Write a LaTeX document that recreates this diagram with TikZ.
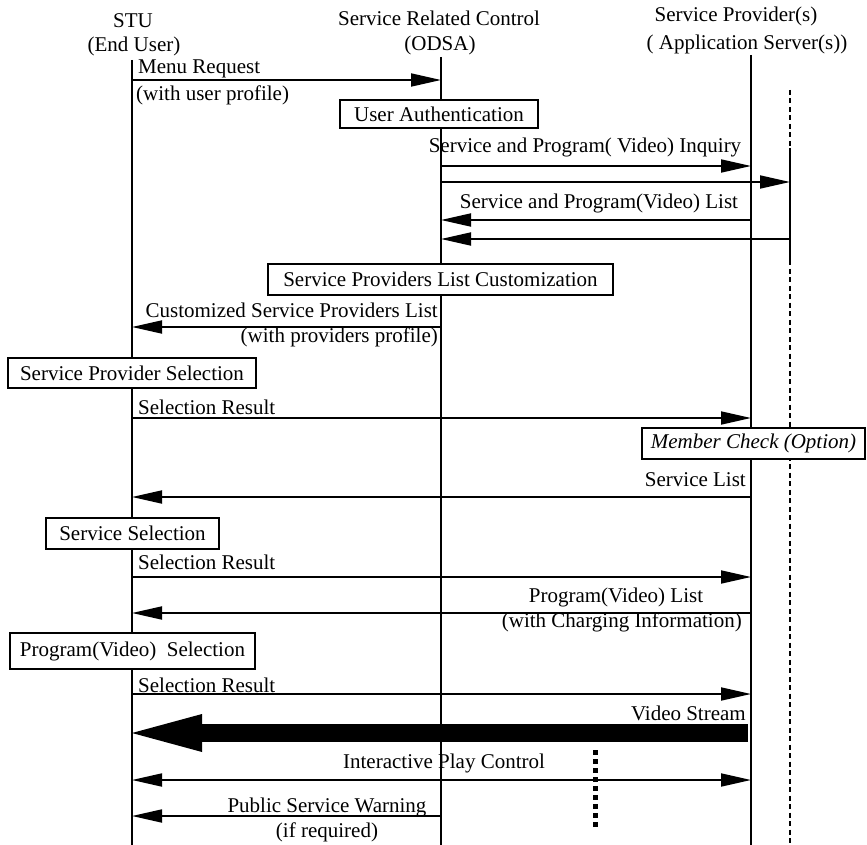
\documentclass[tikz,border=0pt]{standalone}
\usepackage{fontspec}
\setmainfont{Liberation Serif}
\usetikzlibrary{arrows.meta}
\begin{document}
\begin{tikzpicture}[x=1pt,y=-1pt,
  every node/.style={font=\fontsize{21}{24}\selectfont, inner sep=0pt},
  lifeline/.style={line width=1.8pt},
  altline/.style={line width=1.6pt, dash pattern=on 5pt off 3.5pt},
  msg/.style={line width=1.8pt, -{Triangle[length=30pt,width=13pt]}},
  dmsg/.style={line width=1.8pt, {Triangle[length=30pt,width=13pt]}-{Triangle[length=30pt,width=13pt]}},
  stream/.style={line width=18pt, -{Triangle[length=70pt,width=38pt,line width=0pt]}},
  actbox/.style={draw, line width=1.8pt, fill=white, minimum height=30pt},
  hdr/.style={}
]
\useasboundingbox (0,0) rectangle (867,845);

% participants
\node[hdr] (stu) at (133,21) {STU};
\node[hdr] (stu2) at (134,46) {(End User)};
\node[hdr] (odsa) at (439,18) {Service Related Control};
\node[hdr] (odsa2) at (440,45) {(ODSA)};
\node[hdr] (sp) at (736,16) {Service Provider(s)};
\node[hdr] (sp2) at (747,44) {( Application Server(s))};

% lifeline ends
\coordinate (S0) at (132,60);  \coordinate (S1) at (132,845);
\coordinate (C0) at (441,57);  \coordinate (C1) at (441,845);
\coordinate (P0) at (751,55);  \coordinate (P1) at (751,845);
\coordinate (A0) at (790,90);  \coordinate (A1) at (790,845);
\coordinate (Aa) at (790,148); \coordinate (Ab) at (790,262);

\draw[lifeline] (S0) -- (S1);
\draw[lifeline] (C0) -- (C1);
\draw[lifeline] (P0) -- (P1);
\draw[altline] (A0) -- (A1);
\draw[lifeline] (Aa) -- (Ab);

% message rows on each lifeline
\foreach \n/\y in {m1/80, m2/166, m3/182, m4/220, m5/239, m6/327, m7/418,
                   m8/497, m9/577, m10/613, m11/694, m12/733, m13/780, m14/816} {
  \coordinate (\n-S) at (132,\y);
  \coordinate (\n-C) at (441,\y);
  \coordinate (\n-P) at (751,\y);
  \coordinate (\n-A) at (790,\y);
}
\coordinate (m12-E) at (748,733);

% messages
\draw[msg] (m1-S) -- (m1-C);
\draw[msg] (m2-C) -- (m2-P);
\draw[msg] (m3-C) -- (m3-A);
\draw[msg] (m4-P) -- (m4-C);
\draw[msg] (m5-A) -- (m5-C);
\draw[msg] (m6-C) -- (m6-S);
\draw[msg] (m7-S) -- (m7-P);
\draw[msg] (m8-P) -- (m8-S);
\draw[msg] (m9-S) -- (m9-P);
\draw[msg] (m10-P) -- (m10-S);
\draw[msg] (m11-S) -- (m11-P);
\draw[stream] (m12-E) -- (m12-S);
\draw[dmsg] (m13-S) -- (m13-P);
\draw[msg] (m14-C) -- (m14-S);

% message labels
\node[anchor=west] (l1) at (138,69) {Menu Request};
\node[anchor=west] (l1b) at (136,95) {(with user profile)};
\node (l2) at (585,147) {Service and Program( Video) Inquiry};
\node (l4) at (599,203) {Service and Program(Video) List};
\node[anchor=east] (l6) at (438,310) {Customized Service Providers List};
\node[anchor=east] (l6b) at (438,337) {(with providers profile)};
\node[anchor=west] (l7) at (138,407) {Selection Result};
\node[anchor=east] (l8) at (746,480) {Service List};
\node[anchor=west] (l9) at (138,562) {Selection Result};
\node (l10) at (616,597) {Program(Video) List};
\node[anchor=east] (l10b) at (742,622) {(with Charging Information)};
\node[anchor=west] (l11) at (138,685) {Selection Result};
\node[anchor=east] (l12) at (746,713) {Video Stream};
\node (l13) at (444,763) {Interactive Play Control};
\node (l14) at (327,807) {Public Service Warning};
\node (l14b) at (327,832) {(if required)};

% local actions
\node[actbox, minimum width=198pt, minimum height=28pt] (ua) at (439,114) {User Authentication};
\node[actbox, minimum width=345pt, minimum height=31pt] (slc) at (440.5,279.5) {Service Providers List Customization};
\node[actbox, minimum width=248pt] (sps) at (132,373) {Service Provider Selection};
\node[actbox, minimum width=223pt, minimum height=31pt, font=\fontsize{21}{24}\selectfont\itshape] (mc) at (753.5,443.5) {Member Check (Option)};
\node[actbox, minimum width=173pt, minimum height=31pt] (ss) at (132.5,533.5) {Service Selection};
\node[actbox, minimum width=245pt, minimum height=36pt] (pvs) at (132.5,651) {Program(Video)\ \ Selection};

% session boundary marker
\coordinate (D0) at (595,750);
\coordinate (D1) at (595,830);
\draw[line width=5pt, dash pattern=on 5pt off 4pt] (D0) -- (D1);
\end{tikzpicture}
\end{document}
